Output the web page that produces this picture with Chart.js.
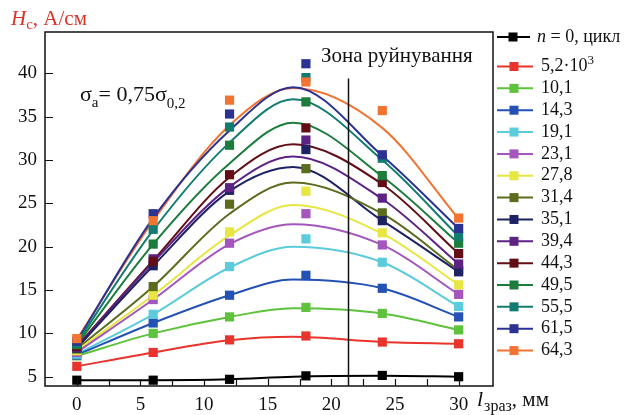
<!DOCTYPE html>
<html lang="uk">
<head>
<meta charset="UTF-8">
<title>Коерцитивна сила</title>
<script src="https://cdn.jsdelivr.net/npm/chart.js@4.4.1/dist/chart.umd.min.js"></script>
<style>
  html, body { margin: 0; padding: 0; background: #fff; }
</style>
</head>
<body>
<canvas id="chart" width="638" height="415"></canvas>
<script>
const markerX = [0, 6, 12, 18, 24, 30];
const curveX = [0, 6, 12, 17, 24, 30];
const xTicks = [0, 5, 10, 15, 20, 25, 30];
const yTicks = [5, 10, 15, 20, 25, 30, 35, 40];

const seriesLabels = ['n = 0, цикл', '5,2·10^3', '10,1', '14,3', '19,1', '23,1', '27,8', '31,4',
                      '35,1', '39,4', '44,3', '49,5', '55,5', '61,5', '64,3'];
const seriesColors = ['#000000', '#e8342c', '#5ec23c', '#2352b4', '#5ccbdc', '#a456bc', '#e8e642',
                      '#5c6c1e', '#1c2262', '#5c2284', '#620e14', '#1c7c3c', '#127c70', '#2c3292', '#f27432'];

// measured points (markers)
const pts0 = [4.6, 4.6, 4.7, 5.1, 5.15, 5.0];
const pts1 = [6.2, 7.8, 9.25, 9.7, 9.0, 8.8];
const pts2 = [7.4, 10.0, 11.9, 13.0, 12.3, 10.4];
const pts3 = [7.5, 11.2, 14.4, 16.7, 15.2, 11.9];
const pts4 = [7.6, 12.2, 17.7, 20.9, 18.2, 13.1];
const pts5 = [7.8, 13.9, 20.4, 23.8, 20.2, 14.5];
const pts6 = [8.0, 14.4, 21.7, 26.4, 21.6, 15.6];
const pts7 = [8.2, 15.4, 24.9, 29.0, 23.9, 17.3];
const pts8 = [8.3, 17.8, 26.5, 31.2, 23.0, 17.1];
const pts9 = [8.4, 18.6, 26.8, 32.3, 25.6, 18.0];
const pts10 = [8.5, 18.3, 28.3, 33.7, 27.4, 19.2];
const pts11 = [8.7, 20.3, 31.7, 36.7, 28.2, 20.4];
const pts12 = [8.9, 22.0, 33.8, 39.5, 30.2, 21.2];
const pts13 = [9.1, 23.8, 35.3, 41.1, 30.6, 22.1];
const pts14 = [9.4, 23.0, 36.9, 39.0, 35.7, 23.3];

// fitted curves, read at curveX
const fit0 = [4.6, 4.6, 4.7, 5.0, 5.1, 5.0];
const fit1 = [6.2, 7.8, 9.2, 9.6, 9.0, 8.8];
const fit2 = [7.4, 10.0, 11.9, 12.9, 12.3, 10.4];
const fit3 = [7.5, 11.2, 14.4, 16.2, 15.2, 11.9];
const fit4 = [7.6, 12.2, 17.6, 20.0, 18.2, 13.1];
const fit5 = [7.8, 13.9, 20.3, 22.6, 20.2, 14.5];
const fit6 = [8.0, 14.4, 21.3, 24.8, 21.5, 15.6];
const fit7 = [8.2, 15.4, 23.8, 27.4, 23.8, 17.3];
const fit8 = [8.3, 17.8, 26.4, 29.2, 23.0, 17.1];
const fit9 = [8.4, 18.2, 26.9, 30.4, 25.5, 18.0];
const fit10 = [8.5, 18.4, 28.0, 31.8, 27.2, 19.2];
const fit11 = [8.7, 20.3, 29.6, 34.3, 28.1, 20.4];
const fit12 = [8.9, 21.9, 32.0, 37.0, 30.0, 21.2];
const fit13 = [9.1, 23.3, 33.4, 38.4, 30.5, 22.1];
const fit14 = [9.3, 23.0, 34.0, 38.3, 33.7, 23.2];

const zoneX = 21.3;
const zoneTop = 39.4;

const pointSets = [pts0, pts1, pts2, pts3, pts4, pts5, pts6, pts7, pts8, pts9, pts10, pts11, pts12, pts13, pts14];
const fitSets = [fit0, fit1, fit2, fit3, fit4, fit5, fit6, fit7, fit8, fit9, fit10, fit11, fit12, fit13, fit14];

const SERIF = '"Liberation Serif", "DejaVu Serif", serif';

const datasets = [];
fitSets.forEach((vals, i) => {
    datasets.push({
        type: 'line',
        label: seriesLabels[i] + ' (fit)',
        data: curveX.map((x, k) => ({ x: x, y: vals[k] })),
        borderColor: seriesColors[i],
        borderWidth: 2,
        pointRadius: 0,
        fill: false,
        cubicInterpolationMode: 'monotone',
        order: 100 + i
    });
});
pointSets.forEach((vals, i) => {
    datasets.push({
        type: 'scatter',
        label: seriesLabels[i],
        data: markerX.map((x, k) => ({ x: x, y: vals[k] })),
        showLine: false,
        pointStyle: 'rect',
        pointRadius: 6.5,
        pointHoverRadius: 6.5,
        backgroundColor: seriesColors[i],
        borderColor: seriesColors[i],
        borderWidth: 0,
        order: 14 - i
    });
});

// draws a run of [text, font, dy] pieces starting at x, y
function drawRun(ctx, parts, x, y) {
    parts.forEach(p => {
        ctx.font = p[1];
        ctx.fillText(p[0], x, y + (p[2] || 0));
        x += ctx.measureText(p[0]).width + (p[3] || 0);
    });
}

// frame, inward ticks, annotations, axis titles and legend
const decorations = {
    id: 'decorations',
    afterDraw(chart) {
        const ctx = chart.ctx;
        const a = chart.chartArea;
        const xs = chart.scales.x, ys = chart.scales.y;
        ctx.save();

        // frame
        ctx.strokeStyle = '#111';
        ctx.lineWidth = 1.5;
        ctx.strokeRect(a.left, a.top, a.right - a.left, a.bottom - a.top);

        // ticks
        ctx.lineWidth = 1.2;
        ctx.beginPath();
        yTicks.forEach(v => {
            const y = Math.round(ys.getPixelForValue(v)) + 0.5;
            ctx.moveTo(a.left, y); ctx.lineTo(a.left + 8, y);
        });
        for (let v = 0; v <= 30; v += 2.5) {
            const x = Math.round(xs.getPixelForValue(v)) + 0.5;
            ctx.moveTo(x, a.bottom); ctx.lineTo(x, a.bottom - 7);
        }
        ctx.stroke();

        // failure zone line
        const zx = Math.round(xs.getPixelForValue(zoneX)) + 0.5;
        ctx.lineWidth = 1.5;
        ctx.beginPath();
        ctx.moveTo(zx, ys.getPixelForValue(zoneTop));
        ctx.lineTo(zx, a.bottom);
        ctx.stroke();

        ctx.fillStyle = '#111';
        ctx.textBaseline = 'alphabetic';
        ctx.textAlign = 'left';
        ctx.font = '21px ' + SERIF;
        ctx.fillText('Зона руйнування', 321, 62);

        // sigma label
        const big = '22px ' + SERIF, sub = '15px ' + SERIF;
        drawRun(ctx, [['σ', big], ['a', sub, 6], ['= 0,75σ', big], ['0,2', sub, 7]], 80, 101);

        // y title
        ctx.fillStyle = '#d8352a';
        drawRun(ctx, [['H', 'italic 21px ' + SERIF], ['c', '15px ' + SERIF, 4], [', А/см', '21px ' + SERIF]], 11, 25);

        // x title
        ctx.fillStyle = '#111';
        drawRun(ctx, [['l', 'italic 22px ' + SERIF, 0, 1], ['зраз', '16px ' + SERIF, 5], [', мм', '21px ' + SERIF]], 477, 406);

        // legend
        ctx.textBaseline = 'middle';
        const lf = '18px ' + SERIF;
        seriesLabels.forEach((label, i) => {
            const y = i === 0 ? 37 : 66.5 + (i - 1) * 21.85;
            ctx.strokeStyle = seriesColors[i];
            ctx.lineWidth = 2;
            ctx.beginPath();
            ctx.moveTo(497, y); ctx.lineTo(i === 0 ? 530 : 533, y);
            ctx.stroke();
            ctx.fillStyle = seriesColors[i];
            const cx = i === 0 ? 513 : 514;
            ctx.fillRect(cx - 4.5, y - 4.5, 9, 9);
            ctx.fillStyle = '#111';
            const tx = i === 0 ? 537 : 541;
            if (label.startsWith('n ')) {
                drawRun(ctx, [['n', 'italic ' + lf], [label.slice(1), lf]], tx, y);
            } else if (label.includes('^')) {
                const p = label.split('^');
                drawRun(ctx, [[p[0], lf], [p[1], '13px ' + SERIF, -6]], tx, y);
            } else {
                drawRun(ctx, [[label, lf]], tx, y);
            }
        });
        ctx.restore();
    }
};

new Chart(document.getElementById('chart'), {
    type: 'scatter',
    data: { datasets: datasets },
    options: {
        responsive: false,
        animation: false,
        layout: { padding: { left: 0, top: 32, right: 145, bottom: 0 } },
        plugins: { legend: { display: false }, tooltip: { enabled: false } },
        scales: {
            x: {
                type: 'linear',
                min: -2.5,
                max: 32.7,
                grid: { display: false, drawTicks: false },
                border: { display: false },
                afterBuildTicks: s => { s.ticks = xTicks.map(v => ({ value: v })); },
                afterFit: s => { s.height = 29; },
                ticks: { padding: 8, color: '#111', maxRotation: 0, autoSkip: false,
                         font: { family: SERIF, size: 19 } }
            },
            y: {
                min: 3.93,
                max: 44.76,
                grid: { display: false, drawTicks: false },
                border: { display: false },
                afterBuildTicks: s => { s.ticks = yTicks.map(v => ({ value: v })); },
                afterFit: s => { s.width = 45; },
                ticks: { padding: 8, color: '#111', autoSkip: false,
                         font: { family: SERIF, size: 19 } }
            }
        }
    },
    plugins: [decorations]
});
</script>
</body>
</html>
